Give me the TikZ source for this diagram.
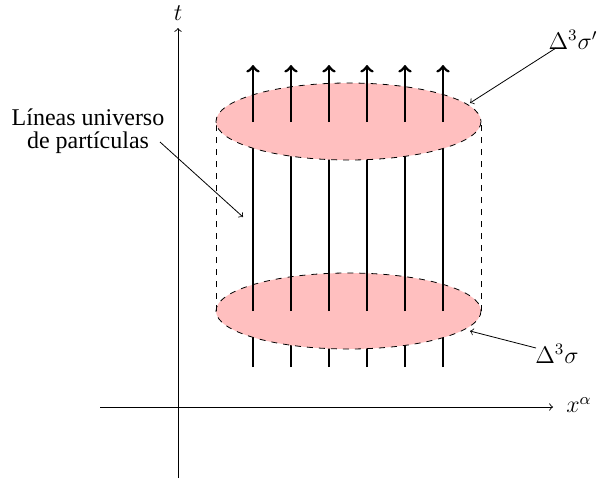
\documentclass[tikz,border=0pt]{standalone}
\usepackage{fontspec}
\newfontfamily\timesfont{Liberation Serif}
\begin{document}
\begin{tikzpicture}[x=0.5pt,y=-0.5pt,
  axis/.style={draw=black,line width=0.45pt,->},
  wl/.style={draw=black,line width=1.4pt},
  wltip/.style={draw=black,line width=1.4pt,->},
  slice/.style={fill=red!25,draw=black,dashed,line width=0.4pt},
  side/.style={draw=black,dashed,line width=0.4pt},
  note/.style={draw=black,line width=0.4pt,->},
  lbl/.style={inner sep=1pt,font=\large},
]
\useasboundingbox (0,0) rectangle (599,487);
% axes
\coordinate (ty0) at (178,478);
\coordinate (ty1) at (178,28);
\coordinate (tx0) at (100,407);
\coordinate (tx1) at (553,407);
\draw[axis] (ty0) -- (ty1);
\draw[axis] (tx0) -- (tx1);
\node[lbl] (tlab) at (178,13) {$t$};
\node[lbl] (xlab) at (579,405) {$x^{\alpha}$};
% bottom segments
\foreach \x in {253,291,329,367,405,443} {
  \coordinate (b\x) at (\x,367);
  \coordinate (m\x) at (\x,311);
  \coordinate (u\x) at (\x,122);
  \coordinate (h\x) at (\x,65);
  \draw[wl] (b\x) -- (m\x);
}
% bottom slice
\coordinate (lowc) at (348.5,311);
\draw[slice] (lowc) ellipse [x radius=132.5, y radius=38];
% sides
\coordinate (sl0) at (216,311);
\coordinate (sl1) at (216,121.5);
\coordinate (sr0) at (481,311);
\coordinate (sr1) at (481,121.5);
\draw[side] (sl0) -- (sl1);
\draw[side] (sr0) -- (sr1);
% middle segments
\foreach \x in {253,291,329,367,405,443} {
  \draw[wl] (m\x) -- (u\x);
}
% top slice
\coordinate (topc) at (348.5,121.5);
\draw[slice] (topc) ellipse [x radius=132.5, y radius=38.5];
% top segments with tips
\foreach \x in {253,291,329,367,405,443} {
  \draw[wltip] (u\x) -- (h\x);
}
% labels
\node[lbl] (sigtop) at (573,40) {$\Delta^3\sigma'$};
\node[lbl] (sigbot) at (557,354) {$\Delta^3\sigma$};
\node[inner sep=1pt,align=center,font=\timesfont\fontsize{12}{11.5}\selectfont] (lines) at (88,131) {Líneas universo\\de partículas};
\coordinate (p1) at (470,103);
\coordinate (p2) at (470,331);
\coordinate (p3) at (243,217);
\coordinate (s1) at (556,48);
\coordinate (s2) at (536,348);
\coordinate (s3) at (160,142);
\draw[note] (s1) -- (p1);
\draw[note] (s2) -- (p2);
\draw[note] (s3) -- (p3);
\end{tikzpicture}
\end{document}
